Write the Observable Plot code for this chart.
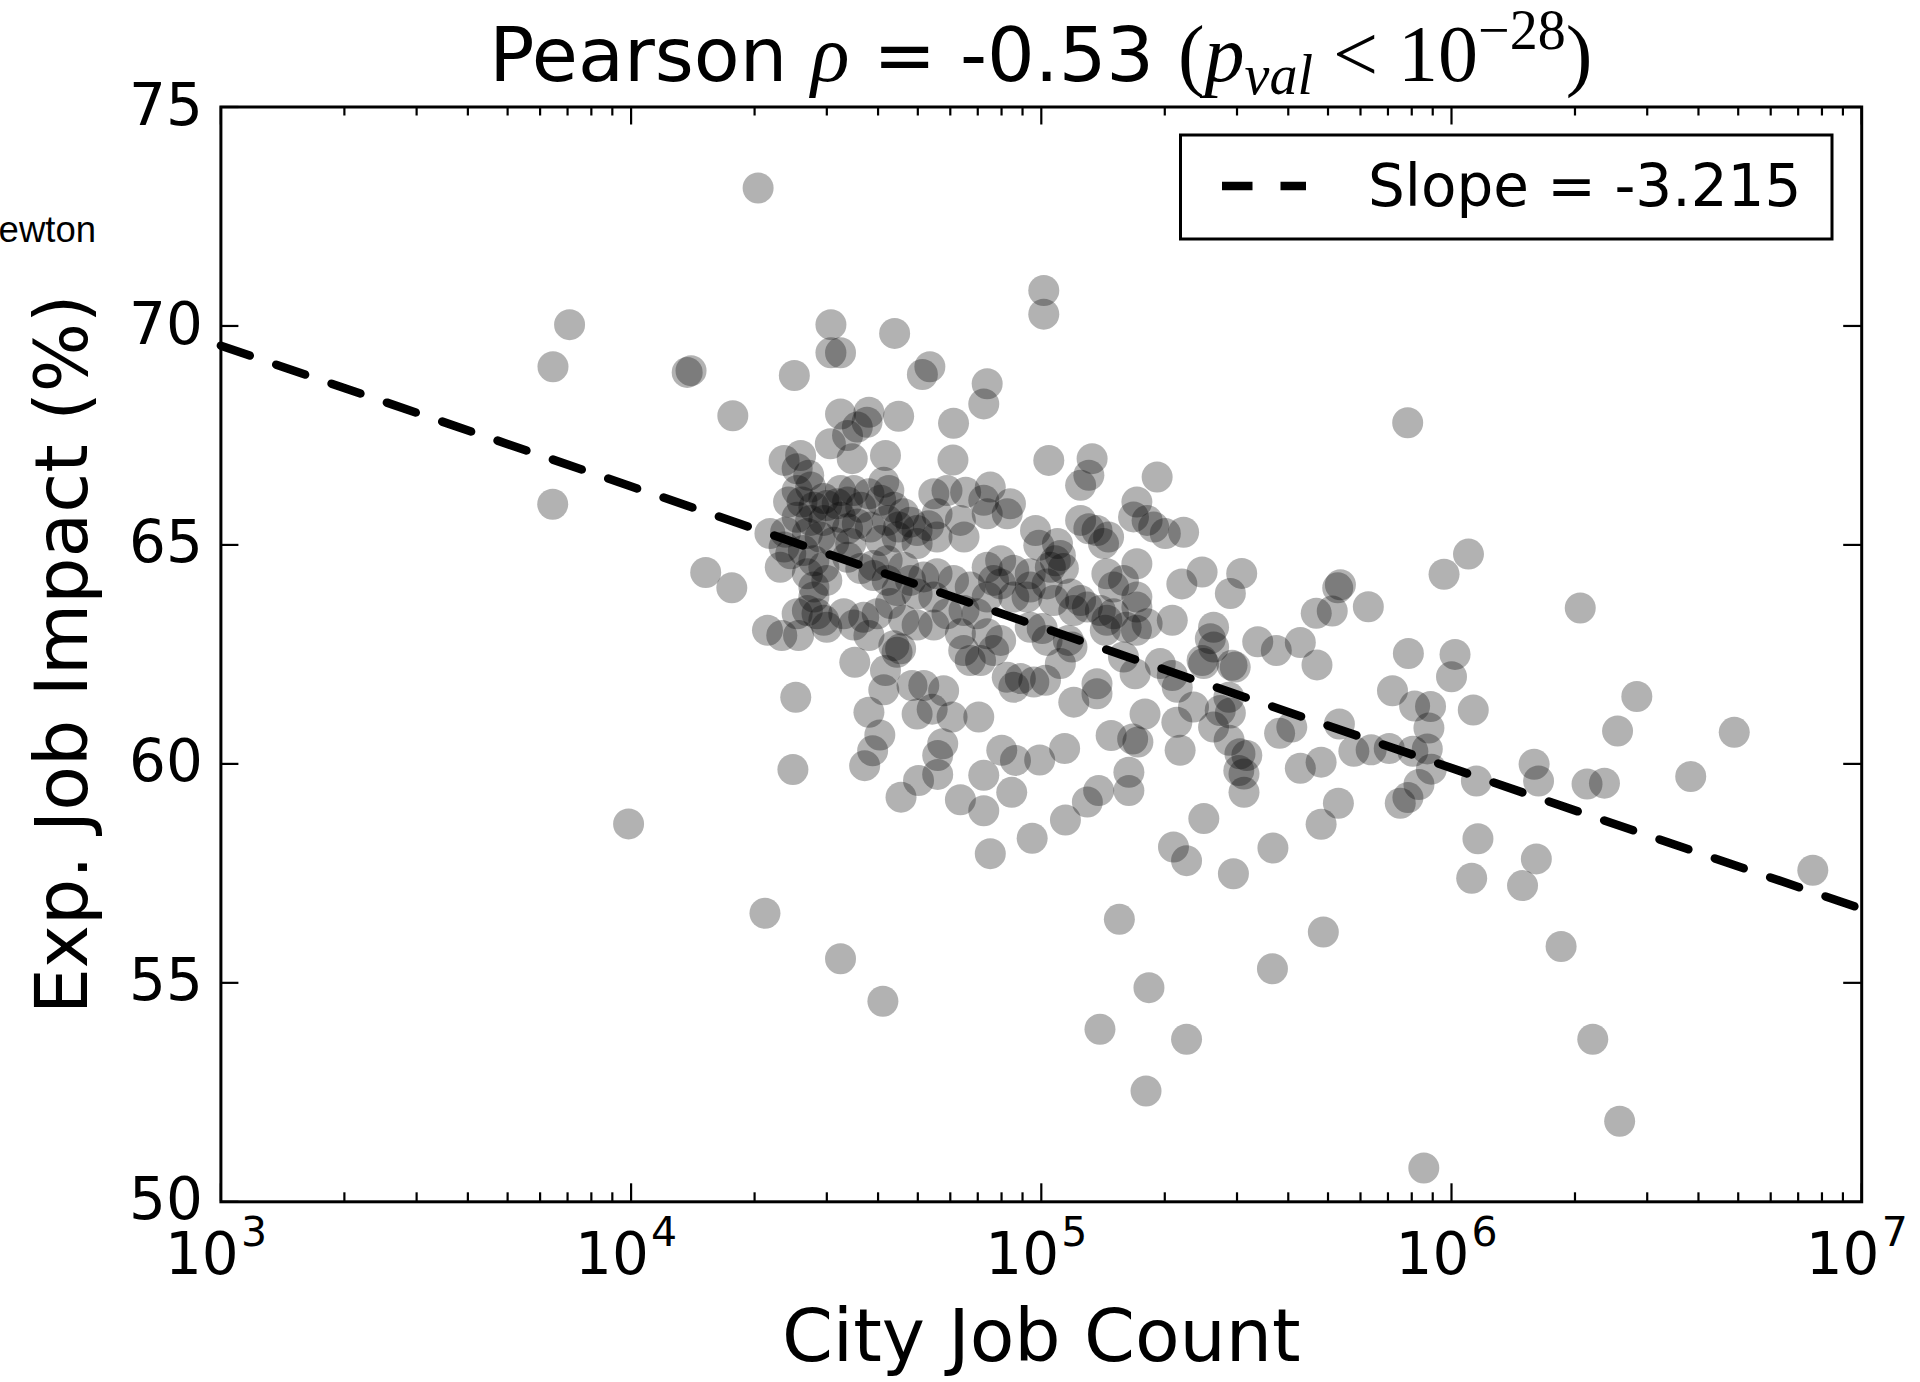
<!DOCTYPE html>
<html>
<head>
<meta charset="utf-8">
<script src="https://cdn.jsdelivr.net/npm/d3@7"></script>
<script src="https://cdn.jsdelivr.net/npm/@observablehq/plot@0.6"></script>
<style>
  html, body { margin: 0; padding: 0; background: #fff; }
  svg { display: block; }
</style>
</head>
<body>
<div id="chart"></div>
<script>
// ---- Data (City Job Count, Exp. Job Impact %) ----
const outerCities = [
  [20400,73.15],[101400,70.81],[101400,70.27],[30700,70.03],[30700,69.39],[32400,69.39],[43900,69.83],[25000,68.87],
  [53500,69.07],[51300,68.89],[73800,68.68],[72400,68.22],[7080,70.03],[6450,69.07],[13700,68.94],[14000,68.98],
  [17700,67.95],[6440,65.93],[15200,64.37],[17600,64.02],[9860,58.63]
];
const largeCities = [
  [782000,67.79],[1100000,64.79],[959000,64.33],[308000,64.35],[289000,63.89],[536000,64.09],[528000,64.02],[627000,63.59],
  [468000,63.44],[512000,63.49],[337000,62.79],[374000,62.59],[428000,62.77],[470000,62.26],[297000,62.21],[785000,62.52],
  [1020000,62.50],[1000000,61.99],[718000,61.67],[813000,61.32],[889000,61.31],[1130000,61.23],[881000,60.82],[873000,60.34],
  [805000,60.29],[705000,60.35],[637000,60.32],[578000,60.29],[533000,60.91],[893000,59.88],[833000,59.53],[783000,59.23],
  [750000,59.10],[1150000,59.61],[1590000,59.99],[1630000,59.61],[408000,60.84],[381000,60.70],[428000,59.90],[481000,60.04],
  [530000,59.10],[481000,58.62],[367000,58.08],[294000,57.49],[1160000,58.29],[1610000,57.83],[1120000,57.39],[1490000,57.22],
  [305000,60.23],[317000,60.19],[312000,59.77],[303000,59.85],[312000,59.35],[289000,61.16],
  [2060000,63.56],[2830000,61.54],[2540000,60.75],[4890000,60.72],[3830000,59.71],[2140000,59.54],[2360000,59.56],[7600000,57.57],
  [1850000,55.83],[2210000,53.71],[2570000,51.84],[487000,56.16],[366000,55.32],[856000,50.77]
];
const lowCities = [
  [21200,56.59],[155000,56.45],[32400,55.55],[41100,54.58],[183000,54.89],[139000,53.94],[226000,53.71],[180000,52.53],
  [75100,57.95],[210000,58.10],[226000,57.79]
];
const midCities = [
  [25200,61.52],[24800,59.87],[23300,62.93],[25600,62.93],[21500,63.05],[35100,62.32],[38000,61.18],[40400,60.66],
  [38800,60.30],[37100,59.96],[41300,61.69],[41700,62.13],[43700,62.70],[45400,62.63],[44500,62.55],[48400,61.79],
  [51700,61.79],[49800,61.14],[54200,61.25],[57800,61.67],[60600,61.07],[70400,61.07],[57500,60.46],[55900,60.19],
  [50200,59.62],[55900,59.76],[45500,59.24],[63500,59.18],[72400,58.93],
  [34900,63.17],[38000,62.93],[49800,63.17],[54700,63.17],[63500,62.97],[64700,62.59],[67100,62.36],[73800,62.97],
  [80100,60.31],[86500,60.08],[99100,60.09],[114000,60.35],[72400,59.74],[84700,59.35],[95000,58.30],[114500,58.72],
  [129500,59.13],[138000,59.39],[148000,60.65],[167000,60.57],[172000,60.50],[163500,59.81],[163500,59.39],[179000,61.14],
  [214000,60.95],[218000,60.31],[235000,61.30],[263000,60.84],[273000,61.22],[249000,58.75],
  [88900,61.95],[95900,61.87],[102400,61.91],[82600,61.98],[85700,61.75],[76500,62.59],[71100,62.36],[120000,61.41],
  [136700,61.83],[136700,61.60],[116400,62.82],[118800,62.67],[158600,62.44],[169300,62.06],[143200,63.05],[208600,62.02],
  [214500,61.75],[258300,62.86],[263100,62.67],[246600,62.36],[248800,62.29],[291700,62.25],[286600,61.52],[94000,63.12],
  [100500,63.09],[79600,62.82],[103300,62.82],[161000,63.12],[170600,63.05],[195000,62.29],[111300,62.29],[287000,60.54]
];
const upperMidCities = [
  [104300,66.93],[133000,66.97],[130600,66.59],[124700,66.36],[191600,66.55],[171000,65.98],[167800,65.64],[187900,65.41],
  [200600,65.26],[222300,65.29],[181100,65.56],[124700,65.56],[130600,65.37],[136700,65.33],[145900,65.18],[141800,65.03],
  [75100,66.32],[72400,66.02],[84100,65.94],[82600,65.71],[73800,65.71],[96800,65.33],[98600,64.99],[109500,65.03],
  [111300,64.76],[108200,64.64],[113200,64.46],[105200,64.49],[94000,64.34],[85700,64.42],[79600,64.64],[73800,64.49],
  [76500,64.19],[94000,64.04],[92300,63.81],[117800,63.88],[124700,63.73],[129500,63.58],[144500,64.34],[158600,64.19],
  [171000,64.57],[150000,64.04],[139300,63.50],[144500,63.28],[171000,63.58],[181100,63.20],[208600,63.28],[220100,64.11],
  [246600,64.38],[263000,63.12],[79600,64.11],[85700,63.81],[73800,63.81],[103300,64.11],[107200,63.73],[120000,63.50],
  [150000,63.43],[171000,63.81]
];
const denseCities = [
  [32400,67.99],[38000,68.03],[37600,67.80],[44900,67.94],[33700,67.50],[35600,67.69],[30600,67.31],[34600,66.97],
  [41700,67.04],[61100,67.78],[60900,66.94],[23600,66.93],[25900,67.04],[25400,66.74],[27100,66.59],[25400,66.24],
  [27400,66.32],[29500,66.06],[32400,66.24],[34900,66.24],[38000,66.17],[41300,66.43],[42500,66.24],[24200,65.98],
  [26100,65.98],[27900,65.86],[30000,65.90],[31800,65.94],[33700,65.98],[36300,65.86],[40600,66.02],[43700,65.86],
  [46200,65.71],[42100,65.56],[48000,65.52],[44900,65.41],[49800,65.33],[53100,65.44],[54700,66.17],[58900,66.24],
  [55700,65.71],[65400,66.20],[63500,65.56],[27400,65.56],[25400,65.63],[29500,65.56],[32400,65.63],[33700,65.37],
  [35600,65.48],[38300,65.41],[21800,65.26],[23800,65.29],[26900,65.26],[28900,65.18],[31200,65.06],[34300,65.03],
  [40600,65.10],[44500,65.18],[49800,65.03],[55700,65.18],[64800,65.18],[23600,64.95],[26300,64.87],[27900,64.64],
  [33700,64.72],[36300,64.46],[39000,64.53],[42100,64.64],[46200,64.49],[48000,64.19],[51700,64.27],[55700,64.34],
  [61100,64.19],[67100,64.04],[29500,64.49],[30000,64.19],[27900,64.04],[26900,64.34],[24500,64.80],[23100,64.49],
  [27900,63.81],[26900,63.50],[28400,63.43],[29500,63.28],[30000,63.12],[25400,63.43],[33000,63.43],[36900,63.35],
  [39800,63.43],[42900,63.66],[44500,63.96],[46200,63.28],[49800,63.88],[54700,63.81],[58900,63.43],[64800,63.50],
  [69700,63.43],[42100,64.19],[39000,64.30]
];
const cityPoints = [...outerCities, ...largeCities, ...lowCities, ...midCities, ...upperMidCities, ...denseCities];

// regression line endpoints
const fitLine = [[1e3, 69.55], [1e7, 56.69]];
const legendLabel = "Slope = -3.215";

// ticks
const xMajorTicks = [1e3, 1e4, 1e5, 1e6, 1e7];
const xTickExponents = ["3", "4", "5", "6", "7"];
const xMinorTicks = [];
for (const e of [3, 4, 5, 6]) for (let k = 2; k <= 9; k++) xMinorTicks.push(k * Math.pow(10, e));
const yMajorTicks = [50, 55, 60, 65, 70, 75];

const xLabel = "City Job Count";
const yLabel = "Exp. Job Impact (%)";

// ---- Layout ----
const W = 1920, H = 1382;
const mL = 220.4, mR = 58.8, mT = 106.5, mB = 180.7;
const innerW = W - mL - mR, innerH = H - mT - mB;
const majorLen = 18, minorLen = 9;
const tickFont = 58;
const dash = "30.5,28";

const chart = Plot.plot({
  width: W, height: H,
  marginLeft: mL, marginRight: mR, marginTop: mT, marginBottom: mB,
  x: {type: "log", domain: [1e3, 1e7], axis: null},
  y: {domain: [50, 75], axis: null},
  style: {background: "white", fontFamily: "DejaVu Sans", color: "black"},
  marks: [
    Plot.dot(cityPoints, {x: d => d[0], y: d => d[1], r: 15.5, fill: "black", fillOpacity: 0.3, stroke: null}),
    Plot.line(fitLine, {x: d => d[0], y: d => d[1], stroke: "black", strokeWidth: 8.5, strokeDasharray: dash}),
    // inward ticks, all four sides
    Plot.tickX(xMajorTicks, {x: d => d, insetTop: innerH - majorLen, stroke: "black", strokeWidth: 2.2}),
    Plot.tickX(xMajorTicks, {x: d => d, insetBottom: innerH - majorLen, stroke: "black", strokeWidth: 2.2}),
    Plot.tickX(xMinorTicks, {x: d => d, insetTop: innerH - minorLen, stroke: "black", strokeWidth: 2.2}),
    Plot.tickX(xMinorTicks, {x: d => d, insetBottom: innerH - minorLen, stroke: "black", strokeWidth: 2.2}),
    Plot.tickY(yMajorTicks, {y: d => d, insetRight: innerW - majorLen, stroke: "black", strokeWidth: 2.2}),
    Plot.tickY(yMajorTicks, {y: d => d, insetLeft: innerW - majorLen, stroke: "black", strokeWidth: 2.2}),
    Plot.frame({stroke: "black", strokeWidth: 3}),
    // y tick labels
    Plot.text(yMajorTicks, {y: d => d, text: d => String(d), frameAnchor: "left", textAnchor: "end",
      lineAnchor: "middle", dx: -18, dy: -1, fontSize: tickFont, fill: "black"}),
    // x tick labels: "10" + superscript exponent
    Plot.text(xMajorTicks, {x: d => d, text: () => "10", frameAnchor: "bottom", textAnchor: "start",
      lineAnchor: "bottom", dx: -56, dy: 72, fontSize: tickFont, fill: "black"}),
    Plot.text(xMajorTicks, {x: d => d, text: (d, i) => xTickExponents[i], frameAnchor: "bottom", textAnchor: "start",
      lineAnchor: "bottom", dx: 20, dy: 44, fontSize: 41, fill: "black"}),
    // axis labels
    Plot.text([xLabel], {text: d => d, frameAnchor: "bottom", textAnchor: "middle", lineAnchor: "bottom",
      dy: 159, fontSize: 73, fill: "black"}),
    Plot.text([yLabel], {text: d => d, frameAnchor: "left", textAnchor: "middle", lineAnchor: "bottom",
      rotate: -90, dx: -134, fontSize: 73, fill: "black"})
  ]
});

document.getElementById("chart").appendChild(chart);

// ---- Title, legend, stray annotation ----
const svg = d3.select(chart);
const serif = "Liberation Serif";
const title = svg.append("text")
  .attr("x", mL + innerW / 2).attr("y", 81)
  .attr("text-anchor", "middle").attr("font-size", 75).attr("fill", "black")
  .attr("font-family", "DejaVu Sans");
title.append("tspan").text("Pearson ");
title.append("tspan").attr("font-family", serif).attr("font-style", "italic").attr("font-size", 80).text("ρ");
title.append("tspan").text(" = -0.53 ");
title.append("tspan").attr("font-family", serif).attr("font-size", 80).text("(");
title.append("tspan").attr("font-family", serif).attr("font-style", "italic").attr("font-size", 80).text("p");
title.append("tspan").attr("font-family", serif).attr("font-style", "italic")
  .attr("font-size", 56).attr("dy", 13).text("val");
title.append("tspan").attr("font-family", serif).attr("font-size", 80).attr("dy", -13).text(" < 10");
title.append("tspan").attr("font-family", serif).attr("font-size", 56).attr("dy", -32).text("−28");
title.append("tspan").attr("font-family", serif).attr("font-size", 80).attr("dy", 32).text(")");

// legend
const lg = svg.append("g").attr("text-anchor", "start");
lg.append("rect").attr("x", 1180.5).attr("y", 135).attr("width", 651.5).attr("height", 104)
  .attr("fill", "white").attr("stroke", "black").attr("stroke-width", 3);
lg.append("line").attr("x1", 1222).attr("x2", 1306).attr("y1", 186).attr("y2", 186)
  .attr("stroke", "black").attr("stroke-width", 8.5).attr("stroke-dasharray", dash);
lg.append("text").attr("x", 1368).attr("y", 206).attr("font-size", 58).attr("fill", "black")
  .attr("text-anchor", "start").attr("font-family", "DejaVu Sans").text(legendLabel);

// clipped city annotation at left edge
svg.append("text").attr("x", 96).attr("y", 242).attr("text-anchor", "end")
  .attr("font-size", 36.5).attr("font-family", "Liberation Sans").attr("fill", "black").text("Newton");
</script>
</body>
</html>
